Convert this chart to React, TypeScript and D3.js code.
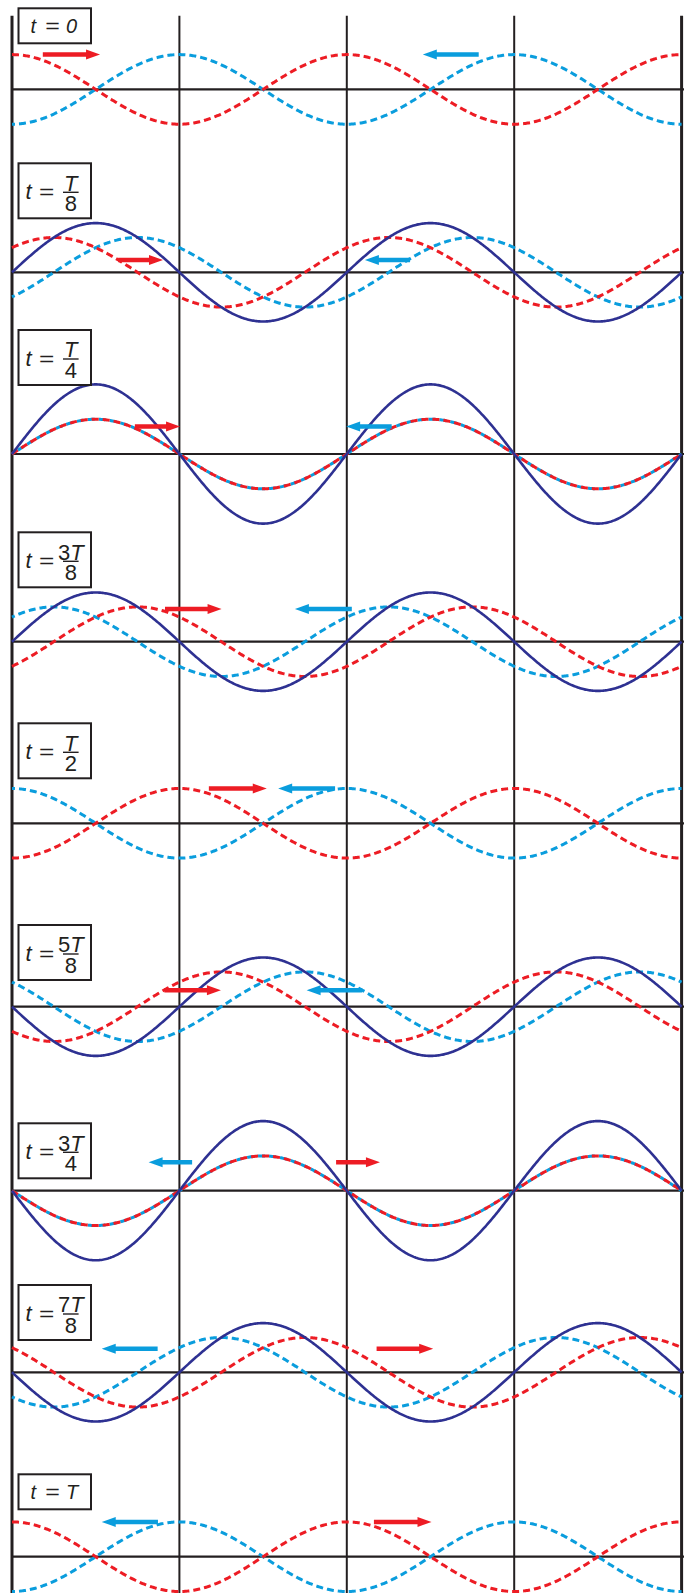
import React from "react";
import * as d3 from "d3";

// ---- data ----
const timeFractions = [0, 1 / 8, 1 / 4, 3 / 8, 1 / 2, 5 / 8, 3 / 4, 7 / 8, 1];
const labelNumerators = ["0", "T", "T", "3T", "T", "5T", "3T", "7T", "T"];
const labelDenominators = [null, "8", "4", "8", "2", "8", "4", "8", null];
// arrow extents in wavelengths [tail, tip]
const redArrowX = [
  [0.092, 0.263], [0.317, 0.451], [0.367, 0.502], [0.457, 0.626], [0.588, 0.761],
  [0.455, 0.624], [0.968, 1.099], [1.089, 1.258], [1.081, 1.253],
];
const blueArrowX = [
  [1.394, 1.227], [1.189, 1.054], [1.134, 0.998], [1.015, 0.845], [0.965, 0.795],
  [1.046, 0.88], [0.538, 0.408], [0.435, 0.268], [0.436, 0.268],
];
// arrow heights in amplitude units
const arrowLevel = [1.0, 0.35, 0.79, 0.94, 1.0, 0.475, 0.82, 0.675, 1.0];
const amplitude = 1;
const wavelengthsShown = 2;

// ---- layout ----
const W = 684;
const H = 1593;
const panelAxisY = [89.4, 272.3, 454, 641.7, 823.3, 1006.7, 1190.7, 1372.3, 1556.7];
const boxTop = [8.3, 163.3, 330, 532.3, 723.3, 925, 1123.3, 1285, 1474.3];
const ampPx = 34.8;

const RED = "#ed1c24";
const CYAN = "#0a9ddd";
const NAVY = "#2e3192";
const INK = "#231f20";
const FONT = "'Liberation Sans', Arial, Helvetica, sans-serif";

const x = d3.scaleLinear().domain([0, wavelengthsShown]).range([12, 681.6]);
const samples = d3.range(0, 601).map((i) => (i / 600) * wavelengthsShown);

function Arrow({ x0, x1, y, color }: { x0: number; x1: number; y: number; color: string }) {
  const dir = Math.sign(x1 - x0);
  const head = 14;
  const hh = 5;
  const sw = 4.5;
  const xb = x1 - dir * head;
  const d = `M${x0},${y - sw / 2} L${xb},${y - sw / 2} L${xb},${y - hh} L${x1},${y} L${xb},${y + hh} L${xb},${y + sw / 2} L${x0},${y + sw / 2} Z`;
  return <path d={d} fill={color} />;
}

function Equals({ cx, y, size }: { cx: number; y: number; size: number }) {
  return (
    <text x={cx} y={y} fontFamily={FONT} fontSize={size} fill={INK} textAnchor="middle"
      transform={`translate(${cx},0) scale(1.25,1) translate(${-cx},0)`}>=</text>
  );
}

function Label({ i }: { i: number }) {
  const top = boxTop[i];
  const num = labelNumerators[i];
  const den = labelDenominators[i];
  const left = 18.5;
  const bw = 72.5;
  if (den === null) {
    return (
      <g>
        <rect x={left} y={top} width={bw} height={35} fill="white" stroke={INK} strokeWidth={2} />
        <text x={30.5} y={top + 25} fontFamily={FONT} fontSize={20} fontStyle="italic" fill={INK}>t</text>
        <Equals cx={52.5} y={top + 25} size={20} />
        <text x={66} y={top + 25} fontFamily={FONT} fontSize={20} fontStyle="italic" fill={INK}>{num}</text>
      </g>
    );
  }
  const cx = 70.8;
  const lineY = top + 29;
  const digit = num.length > 1 ? num.slice(0, -1) : "";
  return (
    <g>
      <rect x={left} y={top} width={bw} height={55} fill="white" stroke={INK} strokeWidth={2} />
      <text x={25.5} y={top + 35.7} fontFamily={FONT} fontSize={22} fontStyle="italic" fill={INK}>t</text>
      <Equals cx={46.7} y={top + 35.7} size={21} />
      <text fontFamily={FONT} fontSize={22} fill={INK} textAnchor="middle">
        <tspan x={cx} y={top + 27.3}>
          {digit}
          <tspan fontStyle="italic">T</tspan>
        </tspan>
        <tspan x={cx} y={top + 47.6}>{den}</tspan>
      </text>
      <line x1={cx - 7.8} x2={cx + 7.8} y1={lineY} y2={lineY} stroke={INK} strokeWidth={1.4} />
    </g>
  );
}

function Panel({ i }: { i: number }) {
  const t = timeFractions[i];
  const cy = panelAxisY[i];
  const y = d3.scaleLinear().domain([-amplitude, amplitude]).range([cy + ampPx, cy - ampPx]);
  const red = (u: number) => amplitude * Math.cos(2 * Math.PI * (u - t));
  const blue = (u: number) => -amplitude * Math.cos(2 * Math.PI * (u + t));
  const line = (f: (u: number) => number) =>
    d3.line<number>().x((u) => x(u)).y((u) => y(f(u)))(samples) as string;
  const resAmp = Math.abs(Math.sin(2 * Math.PI * t));
  const ay = y(arrowLevel[i]);
  return (
    <g>
      <line x1={12} x2={W} y1={cy} y2={cy} stroke={INK} strokeWidth={2.2} />
      <path d={line(blue)} fill="none" stroke={CYAN} strokeWidth={3} strokeDasharray="7 4" strokeDashoffset={4} />
      <path d={line(red)} fill="none" stroke={RED} strokeWidth={3} strokeDasharray="7 4" />
      {resAmp > 1e-6 && (
        <path d={line((u) => red(u) + blue(u))} fill="none" stroke={NAVY} strokeWidth={2.6} />
      )}
      <Arrow x0={x(redArrowX[i][0])} x1={x(redArrowX[i][1])} y={ay} color={RED} />
      <Arrow x0={x(blueArrowX[i][0])} x1={x(blueArrowX[i][1])} y={ay} color={CYAN} />
      <Label i={i} />
    </g>
  );
}

export default function App() {
  const nodes = d3.range(0, wavelengthsShown * 2 + 1).map((k) => k / 2);
  return (
    <svg width={W} height={H} style={{ position: "absolute", left: 0, top: 0, display: "block", background: "white" }}>
      <rect width={W} height={H} fill="white" />
      {nodes.map((u, k) => (
        <line key={k} x1={x(u)} x2={x(u)} y1={15.7} y2={H} stroke={INK}
          strokeWidth={k === 0 || k === nodes.length - 1 ? 3 : 2} />
      ))}
      {timeFractions.map((_, i) => (
        <Panel key={i} i={i} />
      ))}
    </svg>
  );
}
